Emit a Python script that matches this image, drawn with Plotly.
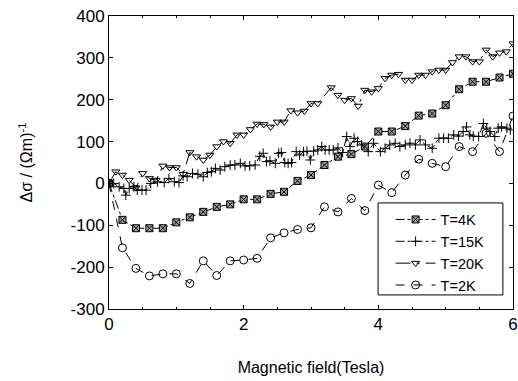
import plotly.graph_objects as go

# ---- data ----
x_4k = [0.0, 0.2, 0.4, 0.6, 0.8, 1.0, 1.2, 1.4, 1.6, 1.8, 2.0, 2.2, 2.4, 2.6, 2.8, 3.0,
        3.2, 3.4, 3.6, 3.8, 4.0, 4.2, 4.4, 4.6, 4.8, 5.0, 5.2, 5.4, 5.6, 5.8, 6.0]
y_4k = [0, -87, -107, -107, -107, -93, -81, -68, -56, -50, -38, -38, -25, -20, 6, 20,
        44, 64, 70, 88, 124, 124, 137, 162, 167, 187, 225, 243, 243, 253, 262]

x_2k = [0.0, 0.2, 0.4, 0.6, 0.8, 1.0, 1.2, 1.4, 1.6, 1.8, 2.0, 2.2, 2.4, 2.6, 2.8, 3.0,
        3.2, 3.4, 3.6, 3.8, 4.0, 4.2, 4.4, 4.6, 4.8, 5.0, 5.2, 5.4, 5.6, 5.8, 6.0]
y_2k = [0, -154, -203, -221, -216, -216, -239, -185, -220, -185, -183, -179, -130, -118, -110, -106,
        -56, -68, -36, -65, -4, -22, 20, 58, 48, 40, 88, 76, 120, 76, 161]

x_20k = [0.0, 0.1, 0.2, 0.3, 0.4, 0.5, 0.6, 0.7, 0.8, 0.9, 1.0, 1.1, 1.2, 1.3, 1.4, 1.5,
         1.6, 1.7, 1.8, 1.9, 2.0, 2.1, 2.2, 2.3, 2.4, 2.5, 2.6, 2.7, 2.8, 2.9, 3.0, 3.1,
         3.3, 3.4, 3.5, 3.6, 3.7, 3.8, 3.9, 4.0, 4.1, 4.2, 4.3, 4.4, 4.5, 4.6, 4.7, 4.8,
         4.9, 5.0, 5.1, 5.2, 5.3, 5.4, 5.5, 5.6, 5.7, 5.8, 5.9, 6.0]
y_20k = [0, 28, 20, 8, -10, 24, 12, 8, 42, 38, 38, 22, 74, 64, 56, 68,
         88, 100, 96, 116, 116, 129, 142, 141, 135, 147, 147, 174, 169, 173, 191, 191,
         229, 211, 199, 203, 185, 223, 219, 227, 251, 259, 261, 247, 247, 259, 259, 267,
         271, 271, 289, 303, 303, 291, 291, 319, 303, 312, 315, 334]

x_15k = [0.0, 0.07, 0.15, 0.22, 0.25, 0.30, 0.37, 0.42, 0.49, 0.55, 0.62, 0.72, 0.82, 0.89,
         0.97, 1.04, 1.10, 1.16, 1.24, 1.32, 1.40, 1.46, 1.52, 1.58, 1.65, 1.72, 1.80, 1.87,
         1.95, 2.02, 2.09, 2.17, 2.24, 2.29, 2.34, 2.39, 2.47, 2.52, 2.56, 2.61, 2.66, 2.71,
         2.78, 2.83, 2.89, 2.94, 2.99, 3.04, 3.10, 3.16, 3.21, 3.27, 3.33, 3.40, 3.47, 3.53,
         3.58, 3.64, 3.69, 3.75, 3.85, 3.93, 4.03, 4.10, 4.17, 4.25, 4.32, 4.40, 4.47, 4.55,
         4.62, 4.70, 4.80, 4.90, 4.97, 5.04, 5.12, 5.19, 5.26, 5.31, 5.36, 5.41, 5.49, 5.56,
         5.61, 5.66, 5.73, 5.78, 5.83, 5.91, 5.96]
y_15k = [0, 0, -8, -12, -28, -12, -8, -16, -16, -16, 0, 4, 2, 12,
         4, 2, 18, 16, 24, 22, 16, 26, 28, 36, 32, 40, 44, 44,
         48, 42, 42, 44, 65, 72, 52, 54, 48, 72, 74, 50, 48, 50,
         76, 68, 76, 77, 56, 77, 80, 88, 80, 80, 80, 85, 74, 112,
         88, 108, 100, 92, 76, 96, 76, 84, 92, 96, 88, 92, 96, 92,
         104, 92, 84, 108, 108, 108, 116, 113, 124, 135, 116, 113, 112, 143,
         132, 124, 112, 132, 135, 132, 128]

x_ticks = [0, 2, 4, 6]
y_ticks = [-300, -200, -100, 0, 100, 200, 300, 400]

FONT = "Liberation Sans, Arial, sans-serif"

fig = go.Figure()

fig.add_trace(go.Scatter(
    x=x_4k, y=y_4k, name="T=4K", mode="lines+markers",
    line=dict(color="black", width=1, dash="dashdot"),
    marker=dict(symbol="square-x", size=7, color="#a0a0a0",
                line=dict(color="black", width=1)),
))
fig.add_trace(go.Scatter(
    x=x_15k, y=y_15k, name="T=15K", mode="lines+markers",
    line=dict(color="black", width=1, dash="dashdot"),
    marker=dict(symbol="cross-thin-open", size=7, color="black",
                line=dict(color="black", width=1)),
))
fig.add_trace(go.Scatter(
    x=x_20k, y=y_20k, name="T=20K", mode="lines+markers",
    line=dict(color="black", width=1, dash="longdashdot"),
    marker=dict(symbol="triangle-down-open", size=7, color="black",
                line=dict(color="black", width=1)),
))
fig.add_trace(go.Scatter(
    x=x_2k, y=y_2k, name="T=2K", mode="lines+markers",
    line=dict(color="black", width=1, dash="dash"),
    marker=dict(symbol="circle-open", size=8, color="black",
                line=dict(color="black", width=1)),
))

fig.update_layout(
    width=518, height=381,
    margin=dict(l=109, r=5, t=16, b=72, autoexpand=False),
    paper_bgcolor="white", plot_bgcolor="white",
    font=dict(family=FONT, size=16, color="black"),
    showlegend=True,
    # legend frame (white box with black border, drawn above the data)
    shapes=[dict(
        type="rect", xref="paper", yref="paper",
        x0=0.666, x1=0.975, y0=0.048, y1=0.362,
        line=dict(color="black", width=1), fillcolor="white", layer="above",
    )],
    legend=dict(
        x=0.697, y=0.36, xanchor="left", yanchor="top",
        borderwidth=0, bgcolor="rgba(0,0,0,0)",
        font=dict(family=FONT, size=14.5, color="black"),
        tracegroupgap=0, itemwidth=40,
    ),
    xaxis=dict(
        range=[0, 6], tickvals=x_ticks, ticktext=[str(v) for v in x_ticks],
        ticks="inside", ticklen=4, tickcolor="black", automargin=False,
        minor=dict(dtick=0.5, ticks="inside", ticklen=2, tickcolor="black"),
        showline=True, linecolor="black", linewidth=1, mirror="ticks",
        showgrid=False, zeroline=False,
        tickfont=dict(family=FONT, size=17),
        title=dict(text="Magnetic field(Tesla)", font=dict(family=FONT, size=16), standoff=28),
    ),
    yaxis=dict(
        range=[-300, 400], tickvals=y_ticks, ticktext=[str(v) for v in y_ticks],
        ticks="inside", ticklen=4, tickcolor="black", automargin=False,
        showline=True, linecolor="black", linewidth=1, mirror="ticks",
        showgrid=False, zeroline=False,
        tickfont=dict(family=FONT, size=17),
        title=dict(text="Δσ / (Ωm)<sup>-1</sup>", font=dict(family=FONT, size=16), standoff=33),
    ),
)

fig.write_html("out.html")
